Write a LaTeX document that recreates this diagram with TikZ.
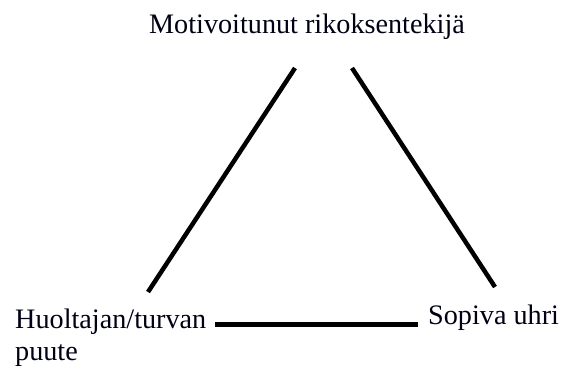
\documentclass[tikz,border=0pt]{standalone}
\usepackage{fontspec}
\setmainfont{Liberation Serif}
\begin{document}
\begin{tikzpicture}[x=1pt,y=-1pt,
  lbl/.style={inner sep=0pt,font=\fontsize{28.2}{34}\selectfont,text=black!92!blue},
  edge/.style={line width=4.5pt,black}]
\useasboundingbox (0,0) rectangle (562,370);
\node[lbl,anchor=base] (mot) at (307,33) {Motivoitunut rikoksentekijä};
\node[lbl,anchor=base west] (huol) at (15,328) {Huoltajan/turvan};
\node[lbl,anchor=base west] (puute) at (15,360) {puute};
\node[lbl,anchor=base west] (sop) at (428,324) {Sopiva uhri};
\coordinate (l1) at (295,68);
\coordinate (l2) at (148,292);
\coordinate (r1) at (352,68);
\coordinate (r2) at (495,287);
\coordinate (b1) at (215,324);
\coordinate (b2) at (418,324);
\draw[edge] (l1) -- (l2);
\draw[edge] (r1) -- (r2);
\draw[edge,line width=5pt] (b1) -- (b2);
\end{tikzpicture}
\end{document}
